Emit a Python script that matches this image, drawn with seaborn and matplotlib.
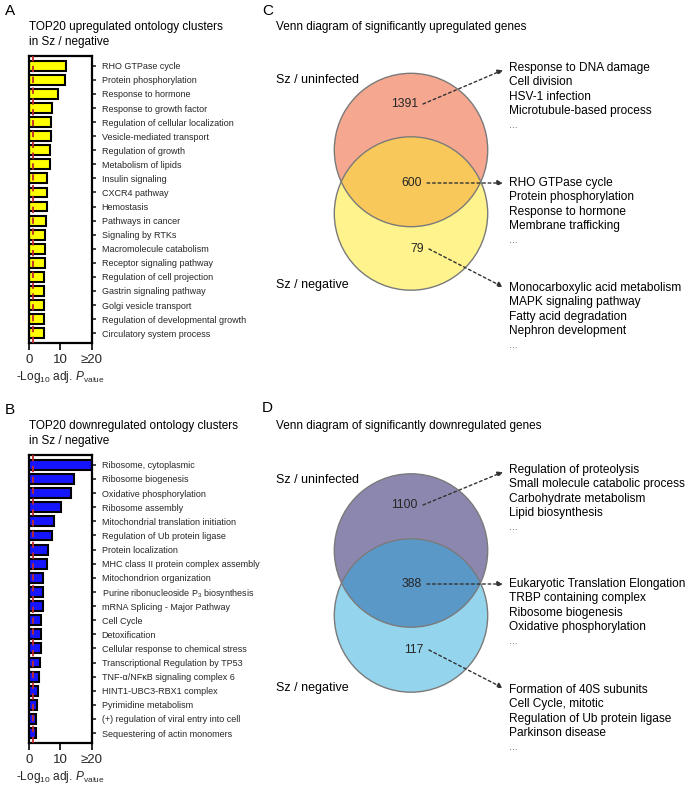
import numpy as np
import pandas as pd
import matplotlib
matplotlib.use("Agg")
import matplotlib.pyplot as plt
from matplotlib.patches import Circle
import seaborn as sns

sns.set_theme(style="white")
plt.rcParams['font.family'] = ['Liberation Sans', 'DejaVu Sans']
plt.rcParams['mathtext.fontset'] = 'custom'
plt.rcParams['mathtext.rm'] = 'Liberation Sans'
plt.rcParams['mathtext.it'] = 'Liberation Sans:italic'
plt.rcParams['mathtext.bf'] = 'Liberation Sans:bold'

# ---------------- data ----------------
up_terms = ["RHO GTPase cycle", "Protein phosphorylation", "Response to hormone",
            "Response to growth factor", "Regulation of cellular localization",
            "Vesicle-mediated transport", "Regulation of growth", "Metabolism of lipids",
            "Insulin signaling", "CXCR4 pathway", "Hemostasis", "Pathways in cancer",
            "Signaling by RTKs", "Macromolecule catabolism", "Receptor signaling pathway",
            "Regulation of cell projection", "Gastrin signaling pathway",
            "Golgi vesicle transport", "Regulation of developmental growth",
            "Circulatory system process"]
up_values = [11.7, 11.4, 9.3, 7.2, 7.0, 6.9, 6.7, 6.6, 5.8, 5.6, 5.6, 5.4, 5.0, 5.1,
             5.0, 4.9, 4.9, 4.8, 4.8, 4.8]

down_terms = ["Ribosome, cytoplasmic", "Ribosome biogenesis", "Oxidative phosphorylation",
              "Ribosome assembly", "Mitochondrial translation initiation",
              "Regulation of Ub protein ligase", "Protein localization",
              "MHC class II protein complex assembly", "Mitochondrion organization",
              "Purine ribonucleoside P$_3$ biosynthesis", "mRNA Splicing - Major Pathway",
              "Cell Cycle", "Detoxification", "Cellular response to chemical stress",
              "Transcriptional Regulation by TP53", "TNF-α/NFκB signaling complex 6",
              "HINT1-UBC3-RBX1 complex", "Pyrimidine metabolism",
              "(+) regulation of viral entry into cell", "Sequestering of actin monomers"]
down_values = [24.0, 14.3, 13.3, 10.2, 7.9, 7.2, 5.9, 5.8, 4.6, 4.6, 4.3, 3.9, 3.8, 3.7,
               3.5, 3.2, 2.9, 2.4, 2.2, 2.2]

threshold = 1.3  # -log10(0.05)
x_ticks = [0, 10, 20]
x_ticklabels = ["0", "10", "≥20"]

venn_up_counts = [1391, 600, 79]
venn_up_terms = [
    ["Response to DNA damage", "Cell division", "HSV-1 infection",
     "Microtubule-based process", "..."],
    ["RHO GTPase cycle", "Protein phosphorylation", "Response to hormone",
     "Membrane trafficking", "..."],
    ["Monocarboxylic acid metabolism", "MAPK signaling pathway", "Fatty acid degradation",
     "Nephron development", "..."],
]
venn_down_counts = [1100, 388, 117]
venn_down_terms = [
    ["Regulation of proteolysis", "Small molecule catabolic process",
     "Carbohydrate metabolism", "Lipid biosynthesis", "..."],
    ["Eukaryotic Translation Elongation", "TRBP containing complex",
     "Ribosome biogenesis", "Oxidative phosphorylation", "..."],
    ["Formation of 40S subunits", "Cell Cycle, mitotic",
     "Regulation of Ub protein ligase", "Parkinson disease", "..."],
]
set_labels = ["Sz / uninfected", "Sz / negative"]

W, H = 685, 788
fig = plt.figure(figsize=(W / 100, H / 100), dpi=100)

def T(x, y, s, size, **kw):
    kw.setdefault('va', 'center')
    kw.setdefault('ha', 'left')
    fig.text(x / W, 1 - y / H, s, fontsize=size, color='black', **kw)

# ------------- Venn overlay axes -------------
vax = fig.add_axes([0, 0, 1, 1])
vax.set_xlim(0, W)
vax.set_ylim(H, 0)
vax.axis('off')

def venn(cx, cy1, cy2, r, c_top, c_bot, c_mid, counts, terms, y0, list_ys, arrow_targets):
    top = Circle((cx, cy1), r, facecolor=c_top, edgecolor='none', zorder=1)
    bot = Circle((cx, cy2), r, facecolor=c_bot, edgecolor='none', zorder=1)
    vax.add_patch(top)
    vax.add_patch(bot)
    mid = Circle((cx, cy2), r, facecolor=c_mid, edgecolor='none', zorder=2)
    vax.add_patch(mid)
    clip = Circle((cx, cy1), r, transform=vax.transData)
    mid.set_clip_path(clip)
    for cy in (cy1, cy2):
        vax.add_patch(Circle((cx, cy), r, facecolor='none', edgecolor='#7a7a7a', lw=1.0, zorder=3))
    num_pos = [(cx - 3, y0[0]), (cx + 1, y0[1]), (cx + 3, y0[2])]
    for (nx, ny), n, lys, tgt, tl in zip(num_pos, counts, list_ys, arrow_targets, terms):
        vax.text(nx + 10, ny, str(n), ha='right', va='center', fontsize=8.8, zorder=5)
        vax.annotate('', xy=tgt, xytext=(nx + 15, ny),
                     arrowprops=dict(arrowstyle='-|>', linestyle=(0, (2.0, 2.0)), lw=1.0,
                                     color='#333333', mutation_scale=8, shrinkA=0, shrinkB=0),
                     zorder=6)
        for i, s in enumerate(tl):
            vax.text(509, lys + i * 14.3, s, ha='left', va='center',
                     fontsize=8.6 if s != "..." else 7.5, color='black' if s != "..." else '#555555',
                     zorder=5)

# C
T(262, 11, "C", 11)
T(276, 27, "Venn diagram of significantly upregulated genes", 8.5)
T(276, 80, set_labels[0], 9)
T(276, 285, set_labels[1], 9)
venn(411, 150, 213.5, 76.7, '#F5A88F', '#FEF38C', '#F8C85B', venn_up_counts, venn_up_terms,
     [104, 183, 249], [68, 183, 288], [(503, 70), (503, 183), (503, 287)])

# D
T(262, 408, "D", 11)
T(276, 426, "Venn diagram of significantly downregulated genes", 8.5)
T(276, 480, set_labels[0], 9)
T(276, 688, set_labels[1], 9)
venn(411, 550.5, 615.5, 76.7, '#8C87AF', '#94D4EC', '#5A98C8', venn_down_counts, venn_down_terms,
     [505, 584, 650], [470, 584, 690], [(503, 472), (503, 584), (503, 688)])

# ------------- bar panels -------------
def bar_panel(rect, terms, values, color):
    ax = fig.add_axes(rect)
    df = pd.DataFrame({"term": terms, "value": np.minimum(values, 20)})
    sns.barplot(data=df, x="value", y="term", orient='h', color=color, saturation=1,
                edgecolor='black', linewidth=1.5, width=0.7, ax=ax)
    ax.axvline(threshold, color='#C0282D', lw=1.3, ls=(0, (3.5, 2.5)), zorder=5)
    ax.set_xlim(0, 20)
    ax.set_ylim(len(terms) - 0.3, -0.7)
    ax.set_xticks(x_ticks)
    ax.set_xticklabels(x_ticklabels, fontsize=9.5)
    ax.yaxis.tick_right()
    ax.set_yticks(range(len(terms)))
    ax.set_yticklabels(terms, fontsize=6.5)
    ax.tick_params(axis='y', direction='out', length=3, width=1.2, pad=4, right=True, left=False)
    ax.tick_params(axis='x', direction='out', length=5, width=1.4, pad=3, bottom=True)
    for sp in ax.spines.values():
        sp.set_visible(True)
        sp.set_color('black')
        sp.set_linewidth(1.6)
    ax.set_ylabel("")
    ax.set_xlabel(r"-Log$_{10}$ adj. $\it{P}$$_{\rm value}$", fontsize=8.6, labelpad=2)
    return ax

T(5, 11, "A", 11)
T(29, 27, "TOP20 upregulated ontology clusters", 8.5)
T(29, 42, "in Sz / negative", 8.5)
bar_panel([29 / W, 1 - 343 / H, 63 / W, 287 / H], up_terms, up_values, '#FFFF00')

T(5, 410, "B", 11)
T(29, 426, "TOP20 downregulated ontology clusters", 8.5)
T(29, 441, "in Sz / negative", 8.5)
bar_panel([29 / W, 1 - 743 / H, 63 / W, 288 / H], down_terms, down_values, '#1515FF')

fig.savefig("out.png", dpi=100)
